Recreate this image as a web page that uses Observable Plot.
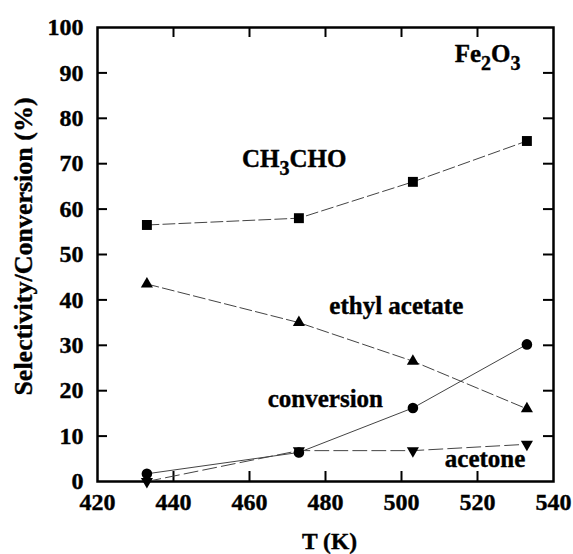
<!DOCTYPE html>
<html>
<head>
<meta charset="utf-8">
<script src="https://cdn.jsdelivr.net/npm/d3@7"></script>
<script src="https://cdn.jsdelivr.net/npm/@observablehq/plot@0.6"></script>
<style>
  body { margin: 0; background: #fff; }
  #chart svg, #chart svg text { font-family: "Liberation Serif", "Times New Roman", serif !important; font-weight: bold !important; }
  #chart svg text { stroke: black; stroke-width: 0.4px; paint-order: stroke; }
</style>
</head>
<body>
<div id="chart"></div>
<script>
// ---- data ----
const temperatures = [433, 473, 503, 533];
const ch3cho = [56.5, 58, 66, 75];
const ethylAcetate = [43.5, 35, 26.5, 16];
const conversion = [1.7, 6.4, 16.2, 30.2];
const acetone = [0, 6.8, 6.8, 8.2];

const xTickLabels = [420, 440, 460, 480, 500, 520, 540];
const yTickLabels = [0, 10, 20, 30, 40, 50, 60, 70, 80, 90, 100];
const xInnerTicks = [440, 460, 480, 500, 520];
const yInnerTicks = [10, 20, 30, 40, 50, 60, 70, 80, 90];

const seriesNames = ["CH3CHO", "ethyl acetate", "conversion", "acetone"];
const seriesValues = [ch3cho, ethylAcetate, conversion, acetone];

// annotation anchors (data units)
const labelText = ["CH3CHO", "Fe2O3", "ethyl acetate", "conversion", "acetone"];
const labelX = [458.0, 514.0, 481.0, 464.8, 511.4];
const labelY = [69.2, 92.5, 37.0, 16.3, 3.3];

// ---- build tables ----
const rows = [];
seriesNames.forEach((name, i) => {
  temperatures.forEach((t, j) => rows.push({series: name, T: t, v: seriesValues[i][j]}));
});
const labels = labelText.map((t, i) => ({text: t, x: labelX[i], y: labelY[i]}));

const W = 573, H = 554;
const mL = 97, mR = 20, mT = 27, mB = 73;
const plotW = W - mL - mR, plotH = H - mT - mB;

const style = {
  ch3cho: {dash: "12,4", symbol: "square", r: 5.6, rotate: 0},
  ethyl: {dash: "12,4", symbol: "triangle", r: 4.5, rotate: 0},
  conv: {dash: null, symbol: "circle", r: 5.3, rotate: 0},
  acet: {dash: "14,5", symbol: "triangle", r: 4.5, rotate: 180}
};
const styleFor = {"CH3CHO": style.ch3cho, "ethyl acetate": style.ethyl, "conversion": style.conv, "acetone": style.acet};

const lineMarks = seriesNames.map(name => Plot.line(rows.filter(d => d.series === name), {
  x: "T", y: "v", stroke: "#444", strokeWidth: 1,
  strokeDasharray: styleFor[name].dash
}));
const dotMarks = seriesNames.map(name => Plot.dot(rows.filter(d => d.series === name), {
  x: "T", y: "v", fill: "black", stroke: "none",
  symbol: styleFor[name].symbol, r: styleFor[name].r, rotate: styleFor[name].rotate
}));

const chart = Plot.plot({
  width: W, height: H,
  marginLeft: mL, marginRight: mR, marginTop: mT, marginBottom: mB,
  style: "font-family: 'Liberation Serif', serif; font-weight: bold; font-size: 24px; color: black; background: white;",
  x: {domain: [420, 540]},
  y: {domain: [0, 100]},
  marks: [
    Plot.axisX({ticks: xTickLabels, tickSize: 0, tickPadding: 11, label: null, fontSize: 24, tickFormat: d => String(d)}),
    Plot.axisY({ticks: yTickLabels, tickSize: 0, tickPadding: 14, label: null, fontSize: 24, tickFormat: d => String(d)}),
    // inward ticks
    Plot.tickX(xInnerTicks, {x: d => d, insetTop: plotH - 10, stroke: "black", strokeWidth: 2}),
    Plot.tickX(xInnerTicks, {x: d => d, insetBottom: plotH - 10, stroke: "black", strokeWidth: 2}),
    Plot.tickY(yInnerTicks, {y: d => d, insetRight: plotW - 10, stroke: "black", strokeWidth: 2}),
    Plot.tickY(yInnerTicks, {y: d => d, insetLeft: plotW - 10, stroke: "black", strokeWidth: 2}),
    Plot.frame({stroke: "black", strokeWidth: 2.5}),
    ...lineMarks,
    ...dotMarks,
    Plot.text(labels, {x: "x", y: "y", text: "text", textAnchor: "start", lineAnchor: "bottom", fontSize: 25, fill: "black"}),
    // axis titles
    Plot.text(["Selectivity/Conversion (%)"], {frameAnchor: "left", text: d => d, rotate: -90, textAnchor: "middle", lineAnchor: "bottom", dx: -65.5, dy: -8, fontSize: 26, fill: "black"}),
    Plot.text(["T (K)"], {frameAnchor: "bottom", text: d => d, textAnchor: "middle", lineAnchor: "bottom", dx: 4, dy: 67, fontSize: 23.5, fill: "black"})
  ]
});

// chemical formula subscripts
const ns = "http://www.w3.org/2000/svg";
const formulas = {
  "CH3CHO": [["CH", false], ["3", true], ["CHO", false]],
  "Fe2O3": [["Fe", false], ["2", true], ["O", false], ["3", true]]
};
chart.querySelectorAll("text").forEach(el => {
  const parts = formulas[el.textContent];
  if (!parts) return;
  el.textContent = "";
  let prevSub = false;
  parts.forEach(([s, isSub]) => {
    const t = document.createElementNS(ns, "tspan");
    t.textContent = s;
    if (isSub) { t.setAttribute("font-size", "20"); t.setAttribute("dy", prevSub ? "0" : "8"); }
    else if (prevSub) { t.setAttribute("dy", "-8"); }
    prevSub = isSub;
    el.appendChild(t);
  });
});

document.getElementById("chart").appendChild(chart);
</script>
</body>
</html>
